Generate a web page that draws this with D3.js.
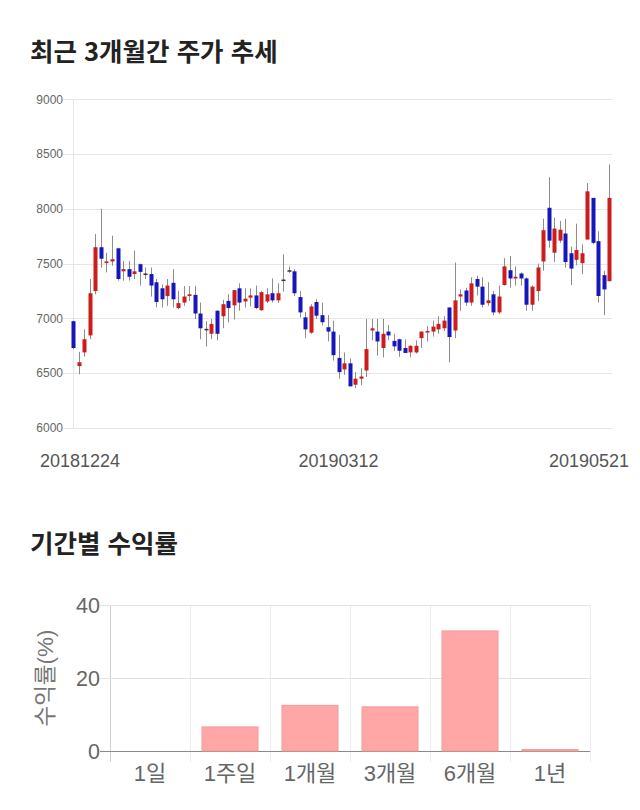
<!DOCTYPE html>
<html lang="ko">
<head>
    <meta charset="UTF-8">
    <title>주가 추세</title>
    <script src="https://d3js.org/d3.v7.min.js"></script>
    <style>
        body {
            margin: 0;
            background: #fff;
            font-family: "Liberation Sans", Arial, "Noto Sans CJK KR", sans-serif;
        }
        svg {
            display: block;
        }
    </style>
</head>
<body>
    <div id="container"></div>

    <script>
        // daily candles (open / high / low / close)
        const opens = [6975,6565,6690,6845,7250,7650,7505,7520,7640,7430,7450,7405,7495,7410,7405,7330,7275,7205,7325,7095,
                       7145,7205,7215,7045,6905,6860,7070,7020,7160,7120,7275,7155,7190,7210,7075,7155,7230,7165,7355,7440,
                       7430,7195,7010,6870,7150,7030,6920,6880,6640,6535,6590,6395,6450,6525,6890,6880,6730,6880,6795,6810,
                       6730,6690,6690,6820,6875,6880,6900,6910,7100,6890,7200,7255,7145,7360,7290,7140,7220,7055,7305,7440,
                       7365,7410,7365,7125,7250,7520,8010,7600,7710,7775,7595,7535,7505,7720,8100,7705,7395,7340];
        const highs = [6980,6695,6900,7360,7770,8000,7600,7755,7645,7525,7525,7620,7500,7465,7465,7360,7310,7360,7450,7250,
                       7295,7295,7297,7145,6975,6995,7075,7170,7220,7260,7320,7275,7275,7300,7250,7275,7365,7320,7585,7475,
                       7450,7250,7060,7130,7175,7145,7030,6980,6850,6690,6635,6510,6545,6995,6995,6995,6995,6940,6860,6815,
                       6810,6755,6800,6880,6930,6980,7020,7020,7100,7510,7265,7280,7375,7390,7375,7330,7250,7300,7550,7570,
                       7475,7420,7375,7300,7500,7910,8290,7920,7890,7910,7655,7865,7675,8235,8100,7795,7435,8405];
        const lows = [6720,6490,6650,6810,7220,7465,7420,7480,7345,7345,7345,7360,7300,7360,7200,7100,7100,7115,7100,7085,
                      7115,7160,6995,6810,6745,6810,6800,6910,6965,6990,7070,7100,7110,7085,7070,7140,7145,7140,7245,7415,
                      7205,7010,6820,6860,6995,6935,6790,6615,6450,6485,6380,6365,6390,6465,6800,6660,6645,6800,6705,6650,
                      6685,6645,6680,6730,6790,6835,6860,6885,6600,6820,7070,7115,7115,7210,7100,7115,7030,7040,7300,7280,
                      7300,7300,7070,7070,7160,7435,7645,7515,7690,7465,7305,7485,7405,7720,7675,7145,7030,7340];
        const closes = [6730,6600,6810,7230,7650,7545,7520,7540,7360,7450,7380,7430,7425,7410,7300,7150,7175,7300,7175,7140,
                        7200,7220,7045,6910,6905,6950,6860,7130,7095,7258,7145,7180,7210,7095,7240,7220,7165,7230,7355,7440,
                        7230,7055,6900,7110,7025,6965,6880,6665,6510,6590,6380,6450,6470,6720,6910,6790,6860,6845,6745,6705,
                        6685,6750,6750,6880,6885,6925,6950,6980,6830,7165,7220,7145,7320,7290,7125,7165,7055,7200,7475,7365,
                        7380,7365,7125,7290,7465,7805,7710,7820,7810,7515,7455,7625,7595,8160,7690,7205,7265,8100];

        // date labels and the candle they sit under
        const dateLabels = ['20181224', '20190312', '20190521'];
        const dateIndex = [0, 48, 97];
        const priceTicks = [6000, 6500, 7000, 7500, 8000, 8500, 9000];

        // period returns (%)
        const periods = ['1일', '1주일', '1개월', '3개월', '6개월', '1년'];
        const returns = [0, 6.6, 12.5, 12.1, 32.9, 0.4];
        const returnTicks = [0, 20, 40];

        const candles = opens.map((o, i) => ({ i: i, o: o, h: highs[i], l: lows[i], c: closes[i] }));

        const svg = d3.select('#container').append('svg')
            .attr('width', 640)
            .attr('height', 810);

        // titles
        svg.append('text')
            .attr('x', 30).attr('y', 61)
            .attr('font-size', 25.5).attr('font-weight', 'bold')
            .attr('font-family', '"Noto Sans CJK KR", sans-serif')
            .attr('fill', '#222')
            .text('최근 3개월간 주가 추세');

        svg.append('text')
            .attr('x', 30).attr('y', 553)
            .attr('font-size', 25.5).attr('font-weight', 'bold')
            .attr('font-family', '"Noto Sans CJK KR", sans-serif')
            .attr('fill', '#222')
            .text('기간별 수익률');

        // ---- candle chart ----
        const cLeft = 73.3, cRight = 612, cTop = 99.3, cBottom = 428;

        const x = d3.scalePoint()
            .domain(d3.range(candles.length))
            .range([cLeft, 609.4]);

        const y = d3.scaleLinear()
            .domain([6000, 9000])
            .range([cBottom, cTop]);

        // grid
        svg.append('g').selectAll('line')
            .data(priceTicks)
            .enter()
            .append('line')
            .attr('x1', cLeft - 10).attr('x2', cRight)
            .attr('y1', d => Math.round(y(d)) + 0.5)
            .attr('y2', d => Math.round(y(d)) + 0.5)
            .attr('stroke', '#e6e6e6');

        svg.append('line')
            .attr('x1', Math.round(cLeft) + 0.5).attr('x2', Math.round(cLeft) + 0.5)
            .attr('y1', cTop).attr('y2', cBottom)
            .attr('stroke', '#e6e6e6');

        svg.append('g').selectAll('text')
            .data(priceTicks)
            .enter()
            .append('text')
            .attr('x', 63)
            .attr('y', d => y(d))
            .attr('dy', '0.35em')
            .attr('text-anchor', 'end')
            .attr('font-size', 12)
            .attr('fill', '#666')
            .text(d => d);

        // date labels, kept inside the page
        svg.append('g').selectAll('text')
            .data(dateLabels)
            .enter()
            .append('text')
            .attr('y', 467)
            .attr('font-size', 18)
            .attr('fill', '#555')
            .attr('text-anchor', 'middle')
            .text(d => d)
            .attr('x', function(d, i) {
                const w = this.getComputedTextLength();
                return Math.max(40 + w / 2, Math.min(629 - w / 2, x(dateIndex[i])));
            });

        // wicks
        svg.append('g').selectAll('line')
            .data(candles)
            .enter()
            .append('line')
            .attr('x1', d => Math.round(x(d.i)) + 0.5)
            .attr('x2', d => Math.round(x(d.i)) + 0.5)
            .attr('y1', d => y(d.h))
            .attr('y2', d => y(d.l))
            .attr('stroke', '#8c8c8c')
            .attr('stroke-width', 1);

        // bodies: red up, blue down
        const bodyW = 4;
        svg.append('g').selectAll('rect')
            .data(candles)
            .enter()
            .append('rect')
            .attr('x', d => Math.round(x(d.i)) + 0.5 - bodyW / 2)
            .attr('y', d => y(Math.max(d.o, d.c)))
            .attr('width', bodyW)
            .attr('height', d => Math.max(1.5, Math.abs(y(d.o) - y(d.c))))
            .attr('fill', function(d) {
                if (d.c > d.o) return '#cc1c1c';
                if (d.c < d.o) return '#1616bb';
                return '#333';
            });

        // ---- period return bars ----
        const bLeft = 110, bRight = 590, bTop = 605, bBottom = 751;

        const xb = d3.scaleBand()
            .domain(periods)
            .range([bLeft, bRight])
            .paddingInner(0.3)
            .paddingOuter(0.15);

        const yb = d3.scaleLinear()
            .domain([0, 40])
            .range([bBottom, bTop]);

        const step = xb.step();

        // vertical grid at category edges
        svg.append('g').selectAll('line')
            .data(d3.range(periods.length + 1))
            .enter()
            .append('line')
            .attr('x1', i => Math.round(bLeft + i * step) + 0.5)
            .attr('x2', i => Math.round(bLeft + i * step) + 0.5)
            .attr('y1', bTop).attr('y2', bBottom + 11)
            .attr('stroke', i => i === 0 ? '#d0d0d0' : '#ececec');

        // horizontal grid
        svg.append('g').selectAll('line')
            .data(returnTicks)
            .enter()
            .append('line')
            .attr('x1', bLeft - 10).attr('x2', bRight)
            .attr('y1', d => Math.round(yb(d)) + 0.5)
            .attr('y2', d => Math.round(yb(d)) + 0.5)
            .attr('stroke', d => d === 0 ? '#8a8a8a' : '#e3e3e3');

        svg.append('g').selectAll('text')
            .data(returnTicks)
            .enter()
            .append('text')
            .attr('x', 100)
            .attr('y', d => yb(d))
            .attr('dy', '0.35em')
            .attr('text-anchor', 'end')
            .attr('font-size', 21.5)
            .attr('fill', '#666')
            .text(d => d);

        svg.append('g').selectAll('rect')
            .data(returns)
            .enter()
            .append('rect')
            .attr('x', (d, i) => xb(periods[i]))
            .attr('y', d => yb(d))
            .attr('width', xb.bandwidth())
            .attr('height', d => yb(0) - yb(d))
            .attr('fill', '#ffa7a7')
            .attr('stroke', '#f39a9a')
            .attr('stroke-width', 1);

        svg.append('g').selectAll('text')
            .data(periods)
            .enter()
            .append('text')
            .attr('x', d => xb(d) + xb.bandwidth() / 2)
            .attr('y', 781)
            .attr('text-anchor', 'middle')
            .attr('font-size', 22)
            .attr('fill', '#666')
            .text(d => d);

        svg.append('text')
            .attr('transform', 'translate(53,' + (bTop + bBottom) / 2 + ') rotate(-90)')
            .attr('text-anchor', 'middle')
            .attr('font-size', 22.5)
            .attr('fill', '#777')
            .text('수익률(%)');
    </script>
</body>
</html>
